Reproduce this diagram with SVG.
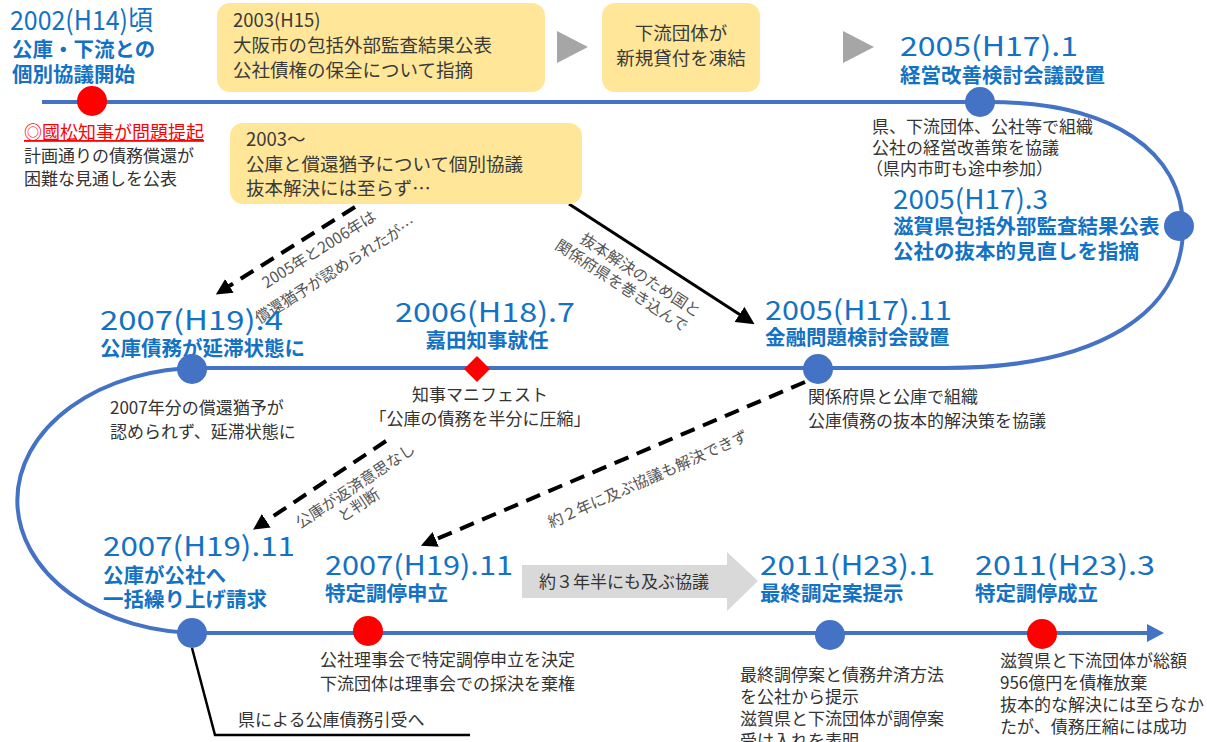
<svg xmlns="http://www.w3.org/2000/svg" width="1207" height="742" viewBox="0 0 1207 742">
<defs>
<style>
text{font-family:'Noto Sans CJK JP','Noto Sans',sans-serif;}
.yr{fill:#1472C4;font-size:27px;font-weight:400;}
.sub{fill:#1472C4;font-size:20.5px;font-weight:700;}
.box{fill:#FFE699;}
.bt{fill:#3A3A3A;font-size:18.5px;}
.body{fill:#333;font-size:17px;}
.note{fill:#555;font-size:15.5px;}
.bdot{fill:#4472C4;}
.rdot{fill:#FF0000;}
.dash{stroke:#000;stroke-width:4;fill:none;stroke-dasharray:15 9;}
</style>
<marker id="ah" markerWidth="6" markerHeight="6" refX="1" refY="3" orient="auto" markerUnits="strokeWidth"><path d="M0,0 L6,3 L0,6 z" fill="#000"/></marker>
<marker id="ah2" markerWidth="4" markerHeight="4" refX="1" refY="2" orient="auto" markerUnits="strokeWidth"><path d="M0,0 L4,2 L0,4 z" fill="#000"/></marker>
</defs>
<rect width="1207" height="742" fill="#fff"/>

<g id="connectors">
<path d="M42,102 H990 C1112,102 1183,152 1183,228 C1183,312 1100,368 945,368 H200 A182,132 0 0 0 200,633 H1150" fill="none" stroke="#4472C4" stroke-width="4"/>
<path d="M1147,624 L1164,633 L1147,642 z" fill="#4472C4"/>
<polygon points="557,31 588,47 557,63" fill="#A6A6A6"/>
<polygon points="843,31 874,47 843,63" fill="#A6A6A6"/>
<line x1="355" y1="207" x2="226" y2="288" class="dash" marker-end="url(#ah2)"/>
<line x1="569" y1="204" x2="742" y2="316" stroke="#000" stroke-width="3" marker-end="url(#ah)"/>
<line x1="386" y1="441" x2="263" y2="523" class="dash" marker-end="url(#ah2)"/>
<line x1="805" y1="382" x2="432" y2="541" class="dash" marker-end="url(#ah2)"/>
<polyline points="192,648 215,735 470,735" fill="none" stroke="#000" stroke-width="2.5"/>
<path d="M522,565 H727 V552 L758,581 L727,611 V598 H522 z" fill="#D9D9D9"/>
<text x="624" y="588" text-anchor="middle" class="body" fill="#404040">約３年半にも及ぶ協議</text>
<text transform="translate(322,254) rotate(-32)" text-anchor="middle" class="note">2005年と2006年は</text>
<text transform="translate(338,275) rotate(-32)" text-anchor="middle" class="note">償還猶予が認められたが…</text>
<g transform="translate(655,260) rotate(33)">
<text x="-4" y="26" text-anchor="middle" class="note">抜本解決のため国と</text>
<text x="-14" y="45" text-anchor="middle" class="note">関係府県を巻き込んで</text>
</g>
<g transform="translate(324,482) rotate(-33.7)">
<text x="24" y="26" text-anchor="middle" class="note">公庫が返済意思なし</text>
<text x="16" y="44" text-anchor="middle" class="note">と判断</text>
</g>
<text transform="translate(650,484) rotate(-24)" text-anchor="middle" class="note">約２年に及ぶ協議も解決できず</text>
<text x="238" y="726" class="body" font-size="18">県による公庫債務引受へ</text>
</g>

<g id="n2002">
<text x="10" y="30" class="yr" font-size="26" textLength="143" lengthAdjust="spacingAndGlyphs">2002(H14)頃</text>
<text x="12" y="57" class="sub" font-size="19">公庫・下流との</text>
<text x="12" y="82" class="sub" font-size="19">個別協議開始</text>
<circle cx="92" cy="101" r="15" class="rdot"/>
<text x="24" y="139" fill="#FF0000" font-size="18" text-decoration="underline">◎國松知事が問題提起</text>
<text x="24" y="162" class="body">計画通りの債務償還が</text>
<text x="24" y="185" class="body">困難な見通しを公表</text>
</g>

<g id="box2003">
<rect x="217" y="3" width="328" height="89" rx="13" class="box"/>
<text x="233" y="27" class="bt">2003(H15)</text>
<text x="233" y="52" class="bt">大阪市の包括外部監査結果公表</text>
<text x="233" y="77" class="bt">公社債権の保全について指摘</text>
</g>

<g id="boxfreeze">
<rect x="602" y="3" width="158" height="89" rx="13" class="box"/>
<text x="681" y="40" class="bt" font-size="17" text-anchor="middle">下流団体が</text>
<text x="681" y="65" class="bt" font-size="17" text-anchor="middle">新規貸付を凍結</text>
</g>

<g id="box2003b">
<rect x="230" y="123" width="352" height="81" rx="13" class="box"/>
<text x="246" y="146" class="bt">2003～</text>
<text x="246" y="171" class="bt">公庫と償還猶予について個別協議</text>
<text x="246" y="195" class="bt">抜本解決には至らず…</text>
</g>

<g id="n2005-1">
<text x="900" y="56" class="yr" textLength="178" lengthAdjust="spacingAndGlyphs">2005(H17).1</text>
<text x="900" y="83" class="sub">経営改善検討会議設置</text>
<circle cx="980" cy="102" r="15" class="bdot"/>
<text x="872" y="133" class="body" font-size="16">県、下流団体、公社等で組織</text>
<text x="872" y="154" class="body" font-size="16">公社の経営改善策を協議</text>
<text x="866" y="175" class="body" font-size="16">（県内市町も途中参加）</text>
</g>

<g id="n2005-3">
<text x="893" y="209" class="yr" font-size="24" textLength="155" lengthAdjust="spacingAndGlyphs">2005(H17).3</text>
<text x="893" y="234" class="sub">滋賀県包括外部監査結果公表</text>
<text x="893" y="259" class="sub">公社の抜本的見直しを指摘</text>
<circle cx="1179" cy="226" r="15" class="bdot"/>
</g>

<g id="n2005-11">
<text x="765" y="320" class="yr" textLength="187" lengthAdjust="spacingAndGlyphs">2005(H17).11</text>
<text x="765" y="345" class="sub">金融問題検討会設置</text>
<circle cx="818" cy="369" r="15" class="bdot"/>
<text x="808" y="403" class="body">関係府県と公庫で組織</text>
<text x="808" y="427" class="body">公庫債務の抜本的解決策を協議</text>
</g>

<g id="n2006-7">
<text x="485" y="322" class="yr" text-anchor="middle" textLength="180" lengthAdjust="spacingAndGlyphs">2006(H18).7</text>
<text x="487" y="348" class="sub" text-anchor="middle">嘉田知事就任</text>
<polygon points="477,356 490,369 477,382 464,369" class="rdot"/>
<text x="480" y="401" class="body" text-anchor="middle">知事マニフェスト</text>
<text x="480" y="425" class="body" text-anchor="middle">「公庫の債務を半分に圧縮」</text>
</g>

<g id="n2007-4">
<text x="100" y="330" class="yr" textLength="183" lengthAdjust="spacingAndGlyphs">2007(H19).4</text>
<text x="100" y="356" class="sub">公庫債務が延滞状態に</text>
<circle cx="192" cy="369" r="15" class="bdot"/>
<text x="110" y="414" class="body" font-size="17.5">2007年分の償還猶予が</text>
<text x="110" y="438" class="body" font-size="17.5">認められず、延滞状態に</text>
</g>

<g id="n2007-11a">
<text x="103" y="556" class="yr" textLength="192" lengthAdjust="spacingAndGlyphs">2007(H19).11</text>
<text x="103" y="583" class="sub">公庫が公社へ</text>
<text x="103" y="607" class="sub">一括繰り上げ請求</text>
<circle cx="192" cy="633" r="15" class="bdot"/>
</g>

<g id="n2007-11b">
<text x="325" y="575" class="yr" textLength="188" lengthAdjust="spacingAndGlyphs">2007(H19).11</text>
<text x="325" y="601" class="sub">特定調停申立</text>
<circle cx="368" cy="631" r="15" class="rdot"/>
<text x="320" y="666" class="body" font-size="18">公社理事会で特定調停申立を決定</text>
<text x="320" y="690" class="body" font-size="18">下流団体は理事会での採決を棄権</text>
</g>

<g id="n2011-1">
<text x="760" y="575" class="yr" textLength="175" lengthAdjust="spacingAndGlyphs">2011(H23).1</text>
<text x="760" y="601" class="sub">最終調定案提示</text>
<circle cx="830" cy="635" r="15" class="bdot"/>
<text x="740" y="681" class="body" font-size="17.5">最終調停案と債務弁済方法</text>
<text x="740" y="703" class="body" font-size="17.5">を公社から提示</text>
<text x="740" y="725" class="body" font-size="17.5">滋賀県と下流団体が調停案</text>
<text x="740" y="747" class="body" font-size="17.5">受け入れを表明</text>
</g>

<g id="n2011-3">
<text x="975" y="575" class="yr" textLength="180" lengthAdjust="spacingAndGlyphs">2011(H23).3</text>
<text x="975" y="601" class="sub">特定調停成立</text>
<circle cx="1042" cy="634" r="15" class="rdot"/>
<text x="1000" y="667" class="body" font-size="17.5">滋賀県と下流団体が総額</text>
<text x="1000" y="689" class="body" font-size="17.5">956億円を債権放棄</text>
<text x="1000" y="711" class="body" font-size="17.5">抜本的な解決には至らなか</text>
<text x="1000" y="733" class="body" font-size="17.5">たが、債務圧縮には成功</text>
</g>
</svg>
